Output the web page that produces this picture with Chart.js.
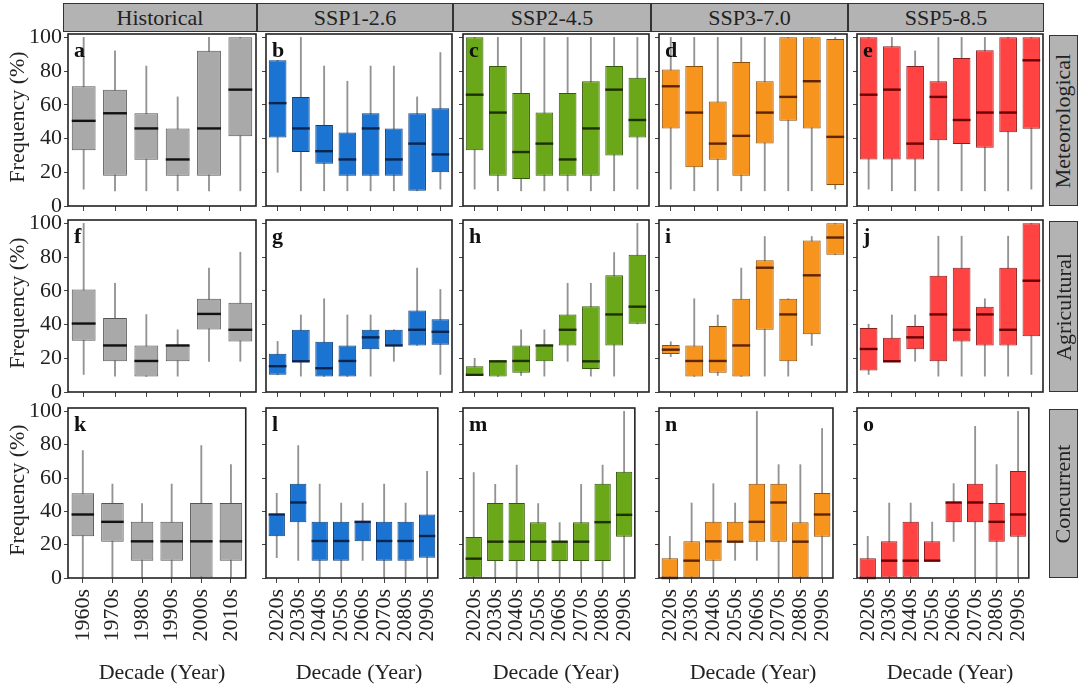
<!DOCTYPE html>
<html><head><meta charset="utf-8">
<script src="https://cdn.jsdelivr.net/npm/chart.js@4.4.1/dist/chart.umd.min.js"></script>
<style>
body{margin:0;background:#fff;width:1080px;height:687px;overflow:hidden;position:relative;font-family:'Liberation Serif','Times New Roman',serif;color:#222;}
canvas{position:absolute;}
.strip{position:absolute;background:#b3b3b3;border:1px solid #333;box-sizing:border-box;display:flex;align-items:center;justify-content:center;font-size:22px;color:#222;}
.strip span{white-space:nowrap;display:block;}
.vstrip span{transform:rotate(-90deg);}
.lbl{position:absolute;font-weight:bold;font-size:22px;line-height:1;color:#111;}
.rt{position:absolute;white-space:nowrap;font-size:22px;line-height:1;transform:translate(-50%,-50%) rotate(-90deg);}
.xt{position:absolute;white-space:nowrap;font-size:22px;line-height:1;transform:translate(-50%,-50%);}
</style></head>
<body>
<script>
// ---------- DATA: each entry [min, q1, median, q3, max] (%) ----------
const histDecades = ['1960s','1970s','1980s','1990s','2000s','2010s'];
const futDecades = ['2020s','2030s','2040s','2050s','2060s','2070s','2080s','2090s'];
const scenarios = ['Historical','SSP1-2.6','SSP2-4.5','SSP3-7.0','SSP5-8.5'];
const droughtTypes = ['Meteorological','Agricultural','Concurrent'];
const panelLetters = ['a','b','c','d','e','f','g','h','i','j','k','l','m','n','o'];
const yTicks = [0,20,40,60,80,100];

const met_hist = [[10,33,50.5,71,100],[9,18,55,69,92],[9,27.4,46,55,83],[9,18,27.6,46,64.7],[9,18,46,92,100],[9,41.4,69,100,100]];
const met_ssp126 = [[20,40.6,61,86.4,86.4],[9,32,46,64.7,100],[9,25,32.5,48,83],[9,18,27.6,43.6,74],[9,18,46,55,83],[9,18,27.6,46,83],[9,9,37,55,64.7],[10,20,30.6,58,91]];
const met_ssp245 = [[10,33,66,100,100],[9,18,55.4,83,100],[9,16,32,67,100],[9,18,37,55.4,100],[9,18,27.6,67,100],[9,18,46,74,100],[9,30,69,83,100],[10,40.6,51,76,100]];
const met_ssp370 = [[10,46,71,81,100],[9,23,55.4,83,100],[9,27.4,37,62,100],[9,18,41.6,85.4,100],[9,37,55.4,74,100],[9,50.5,64.7,100,100],[9,46,74,100,100],[10,12.4,41,99,100]];
const met_ssp585 = [[10,27.6,66,100,100],[9,27.6,69,94.7,100],[9,27.6,37,83,92],[9,39,64.7,74,100],[9,36.7,51,87.8,100],[9,34.5,55.4,92.3,100],[9,43.8,55.4,100,100],[10,45.8,86.4,100,100]];

const agr_hist = [[10.4,30.4,40.6,60.8,100],[9.4,18.2,27.6,43.9,64.5],[9.2,9.2,18.4,27.6,45.9],[9.4,18.2,27.6,27.6,36.9],[18.2,37,46.3,55.3,73.5],[18.2,30,36.9,53,82.9]];
const agr_ssp126 = [[10.2,10.2,15.3,22.7,30],[9.4,18.2,18.2,36.9,45.7],[9.2,9.2,14.1,29.8,55.3],[9.2,9.2,18.4,27.6,45.7],[9.4,25.3,32.4,36.9,45.7],[18.2,27.6,27.6,36.9,36.9],[27.6,27.6,36.9,48.4,73.5],[10.4,28,35.7,43.1,60.8]];
const agr_ssp245 = [[10.2,10.2,10.2,15.3,20],[9.2,9.2,18.2,18.6,18.6],[9.8,11.4,18.4,27.6,36.9],[9.4,18.2,27.6,27.8,36.9],[18.2,27.6,36.9,46,64.5],[9.4,13.7,18.2,50.8,64.5],[9.4,27.6,46,69.2,82.7],[40.4,40.4,50.6,81.4,100]];
const agr_ssp370 = [[21,22.5,25.1,27.8,29.8],[9.2,9.2,18.4,27.6,55.3],[9.8,11.4,18.4,39.2,45.7],[9.2,9.2,27.6,55.3,73.5],[9.4,36.9,73.7,78.2,92.2],[9.4,18.2,46,55.3,55.3],[27.6,34.3,69.2,89.8,92.2],[81.4,81.4,91.6,100,100]];
const agr_ssp585 = [[10.4,12.7,25.5,38,40.2],[18.2,18.2,18.2,32.2,45.7],[18.2,25.3,32.4,39.2,45.7],[9.4,18.2,46,69,92.4],[9.4,30,36.9,73.7,92.4],[9.4,27.6,46,50.6,55.3],[9.4,27.6,36.9,73.7,92.4],[10.4,33,66,100,100]];

const con_hist = [[0,25,38.1,50.8,76.5],[0,21.8,33.7,45,56.4],[0,10.4,22,33.7,44.7],[0,10.4,22,33.7,56.4],[0,0,22,45,79.5],[0,10.4,22,45,68]];
const con_ssp126 = [[12.2,25,38.1,38.1,50.8],[10.6,33.5,45.3,56.6,79.5],[0,10.4,22.2,33.7,56.4],[0,10.4,22.2,33.7,45],[10.6,22,33.7,33.7,45],[0,10.4,22.2,33.7,56.4],[0,10.4,22.2,33.7,45],[0,12.2,25.2,38.1,64]];
const con_ssp245 = [[0,0,11.6,24.6,63.2],[0,10.2,21.8,45,56.2],[0,10.2,21.8,45,67.8],[0,10.2,21.8,33.5,44.7],[0,10.2,21.8,21.8,33.3],[0,10.2,21.8,33.5,56.2],[0,10.2,33.5,56.6,67.8],[0,24.8,37.9,63.8,100]];
const con_ssp370 = [[0,0,0,11.8,25],[0,0,10.4,22,45],[0,10.4,22,33.7,56.6],[10.6,21.8,21.8,33.7,45],[10.6,21.8,33.7,56.6,100],[0,21.8,45.3,56.6,68],[0,0,21.8,33.5,68],[0,24.8,38.1,51,89.7]];
const con_ssp585 = [[0,0,0,11.8,25],[0,0,10.4,22,45],[0,0,10.4,33.7,45],[10.2,10.2,10.4,22,33.5],[22,33.5,45.3,45.3,56.6],[0,33.5,45.3,56.6,91],[0,21.8,33.7,45,68],[0,24.8,38.1,64.2,100]];

// ---------- STYLE / LAYOUT ----------
const panelRows = [
  [met_hist, met_ssp126, met_ssp245, met_ssp370, met_ssp585],
  [agr_hist, agr_ssp126, agr_ssp245, agr_ssp370, agr_ssp585],
  [con_hist, con_ssp126, con_ssp245, con_ssp370, con_ssp585]
];
const palettes = [
  {fill:'#a9a9a9', edge:'#555555', med:'#111111'},
  {fill:'#1b74d2', edge:'#0e3f7a', med:'#0a2550'},
  {fill:'#6aa81a', edge:'#355a0c', med:'#1c3000'},
  {fill:'#f7941d', edge:'#8a4d08', med:'#5e2400'},
  {fill:'#ff4242', edge:'#8c1d1d', med:'#6a0000'}
];
const colL = [68,266,463,659,857], colR = [256,452,649,847,1043];
const rowT = [34,220,408], rowB = [206,392,578];
const stripX = [[63,257],[257,453],[453,651],[651,848],[848,1044]];

Chart.defaults.font.family = "'Liberation Serif','Times New Roman',serif";
Chart.defaults.color = '#222';

const boxPlugin = {
  id:'boxextras',
  afterDatasetsDraw(chart, args, opts){
    const {ctx, chartArea, scales} = chart;
    const meta = chart.getDatasetMeta(0);
    ctx.save();
    ctx.strokeStyle = opts.color; ctx.lineWidth = 2.4;
    meta.data.forEach((bar,i)=>{
      const yy = scales.y.getPixelForValue(opts.stats[i][2]);
      ctx.beginPath(); ctx.moveTo(bar.x - bar.width/2, yy); ctx.lineTo(bar.x + bar.width/2, yy); ctx.stroke();
    });
    ctx.strokeStyle = '#222'; ctx.lineWidth = 1.6;
    ctx.strokeRect(chartArea.left, chartArea.top, chartArea.right-chartArea.left, chartArea.bottom-chartArea.top);
    ctx.restore();
  }
};

function addDiv(cls, text, css){
  const d = document.createElement('div'); d.className = cls;
  if (cls.indexOf('strip')>=0){ const s=document.createElement('span'); s.textContent=text; d.appendChild(s);} else d.textContent = text;
  Object.assign(d.style, css); document.body.appendChild(d); return d;
}

function makePanel(row, col){
  const stats = panelRows[row][col];
  const labels = col===0 ? histDecades : futDecades;
  const pal = palettes[col];
  const L = col===0 ? 52 : 8, B = row===2 ? 100 : 18, PT = 16, PR = 8;
  const w = colR[col]-colL[col], h = rowB[row]-rowT[row];
  const cv = document.createElement('canvas');
  cv.width = L + w + PR; cv.height = PT + h + B;
  cv.style.left = (colL[col]-L)+'px'; cv.style.top = (rowT[row]-PT)+'px';
  document.body.appendChild(cv);
  new Chart(cv, {
    type:'bar',
    data:{labels, datasets:[
      {data: stats.map(s=>[s[1],s[3]]), backgroundColor:pal.fill, borderColor:pal.edge, borderWidth:1, borderSkipped:false,
       grouped:false, barPercentage:0.76, categoryPercentage:1, order:0},
      {data: stats.map(s=>[s[0],s[4]]), backgroundColor:'#939393', barThickness:1.2, grouped:false, order:1}
    ]},
    options:{
      responsive:false, animation:false, devicePixelRatio:1,
      layout:{padding:{top:PT, right:PR, left:0, bottom:0}},
      plugins:{legend:{display:false}, tooltip:{enabled:false}, boxextras:{stats, color:pal.med}},
      scales:{
        x:{ offset:true,
            grid:{display:true, offset:false, drawOnChartArea:false, drawTicks:true, tickLength:5, color:'#444', lineWidth:1},
            border:{display:false},
            ticks:{display: row===2, minRotation:90, maxRotation:90, autoSkip:false, padding:6, font:{size:22}, color:'#222'},
            afterFit:(s)=>{ s.height = B; } },
        y:{ min:0, max:102,
            afterBuildTicks:(s)=>{ s.ticks = yTicks.map(v=>({value:v})); },
            grid:{drawOnChartArea:false, drawTicks:true, tickLength:4, color:'#444', lineWidth:1},
            border:{display:false},
            ticks:{display: col===0, padding:2, font:{size:22}, color:'#222'},
            afterFit:(s)=>{ s.width = L; } }
      }
    },
    plugins:[boxPlugin]
  });
  addDiv('lbl', panelLetters[row*5+col], {left:(colL[col]+6)+'px', top:(rowT[row]+5)+'px'});
}

for (let r=0;r<3;r++) for (let c=0;c<5;c++) makePanel(r,c);

scenarios.forEach((s,i)=>{
  addDiv('strip', s, {left:stripX[i][0]+'px', top:'3px', width:(stripX[i][1]-stripX[i][0])+'px', height:'29px'});
  addDiv('xt', 'Decade (Year)', {left:((colL[i]+colR[i])/2)+'px', top:'672px'});
});
droughtTypes.forEach((t,r)=>{
  addDiv('strip vstrip', t, {left:'1049px', top:(rowT[r]+1)+'px', width:'29px', height:(rowB[r]-rowT[r]-1)+'px'});
  addDiv('rt', 'Frequency (%)', {left:'17px', top:((rowT[r]+rowB[r])/2 - 3)+'px'});
});
</script>
</body></html>
